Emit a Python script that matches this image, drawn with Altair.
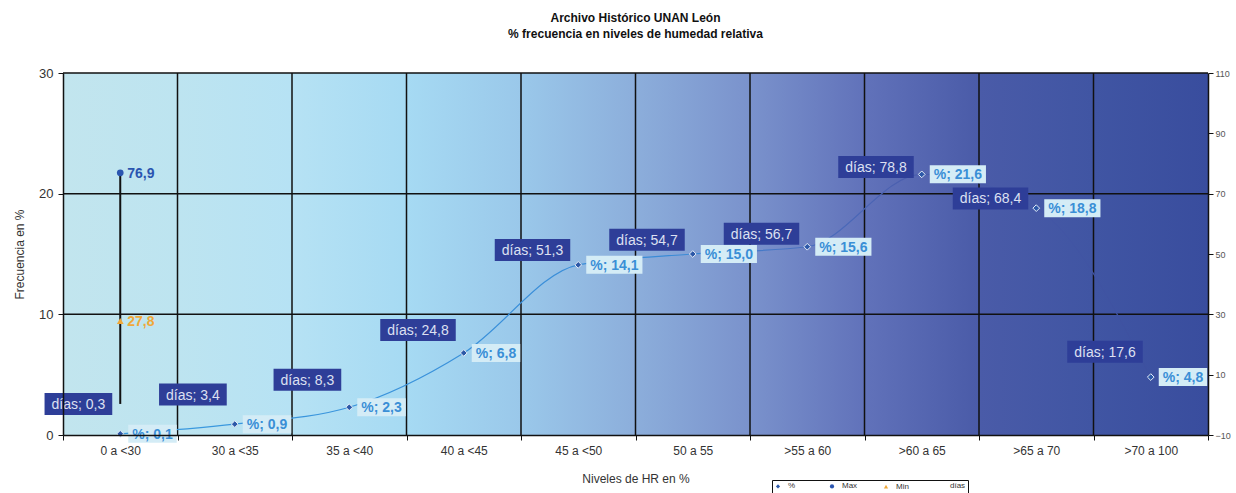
import altair as alt
import pandas as pd

# --- data -------------------------------------------------------------
categories = ["0 a <30", "30 a <35", "35 a <40", "40 a <45", "45 a <50",
              "50 a 55", ">55 a 60", ">60 a 65", ">65 a 70", ">70 a 100"]
pct_values = [0.1, 0.9, 2.3, 6.8, 14.1, 15.0, 15.6, 21.6, 18.8, 4.8]
dias_values = [0.3, 3.4, 8.3, 24.8, 51.3, 54.7, 56.7, 78.8, 68.4, 17.6]
extreme_cats = ["0 a <30", "0 a <30"]
extreme_names = ["Max", "Min"]
extreme_values = [76.9, 27.8]
left_ticks = [0, 10, 20, 30]
right_ticks = [-10, 10, 30, 50, 70, 90, 110]

FONT = "Liberation Sans"
W, H = 1145, 362


def fmt(v):
    return f"{v:.1f}".replace(".", ",")


# Arial-like advance widths (per 1000 em) used to size the label boxes
ADV = {"%": 889, ";": 278, ",": 278, " ": 278, "d": 556, "í": 278,
       "a": 556, "s": 500}
ADV_BOLD = {"%": 889, ";": 333, ",": 278, " ": 278}


def text_width(s, size, bold=False):
    table = ADV_BOLD if bold else ADV
    return sum(table.get(ch, 556) for ch in s) * size / 1000.0


def box_left(w, h, gap):
    return f"M{-gap - w:.1f},{-h / 2:.1f}H{-gap:.1f}V{h / 2:.1f}H{-gap - w:.1f}Z"


def box_right(w, h, gap):
    return f"M{gap:.1f},{-h / 2:.1f}H{gap + w:.1f}V{h / 2:.1f}H{gap:.1f}Z"


LABEL_SIZE = 14
GAP = 8
DIAS_PAD, PCT_PAD = 7, 4

df = pd.DataFrame({"cat": categories, "pct": pct_values, "dias": dias_values})
df["series"] = "%"
df["pct_label"] = ["%; " + fmt(v) for v in pct_values]
df["dias_label"] = ["días; " + fmt(v) for v in dias_values]
df["pct_box"] = [box_right(text_width(s, LABEL_SIZE, True) + 2 * PCT_PAD, 18, GAP)
                 for s in df["pct_label"]]
df["dias_box"] = [box_left(text_width(s, LABEL_SIZE) + 2 * DIAS_PAD, 22, GAP)
                  for s in df["dias_label"]]

ext = pd.DataFrame({"cat": extreme_cats, "series": extreme_names,
                    "value": extreme_values})
ext["label"] = [fmt(v) for v in extreme_values]

# high-low line of the first class, spanning every right-axis value there
first = categories[0]
span_vals = [dias_values[0]] + [v for c, v in zip(extreme_cats, extreme_values) if c == first]
hilo = pd.DataFrame({"cat": [first], "hi": [max(span_vals)], "lo": [min(span_vals)]})

# grid lines: class boundaries and the upper left-axis ticks
vgrid = pd.DataFrame({"cat": categories[1:]})
hgrid = pd.DataFrame({"v": left_ticks[1:]})

# --- encodings ----------------------------------------------------------
x_enc = alt.X(
    "cat:N", sort=categories,
    scale=alt.Scale(paddingInner=0, paddingOuter=0),
    axis=alt.Axis(
        title="Niveles de HR en %", tickBand="extent", grid=False, zindex=1,
        domainColor="#111111", domainWidth=1.5, tickColor="#111111",
        tickSize=5, labelAngle=0, labelFontSize=12, labelColor="#333333",
        labelPadding=5, titleFontSize=12, titleFontWeight="normal",
        titleColor="#333333", titlePadding=17,
    ),
)

left_scale = alt.Scale(domain=[0, 30], nice=False, zero=False)
right_scale = alt.Scale(domain=[-10, 110], nice=False, zero=False)

left_axis = alt.Axis(
    title="Frecuencia en %", values=left_ticks, grid=False, zindex=1,
    domainColor="#111111", domainWidth=1.5,
    tickColor="#111111", tickSize=5, labelFontSize=13, labelColor="#333333",
    labelPadding=5, titleFontSize=12, titleFontWeight="normal",
    titleColor="#333333", titlePadding=12,
)
right_axis = alt.Axis(
    orient="right", title=None, values=right_ticks, grid=False, zindex=1,
    domainColor="#111111", domainWidth=1.5, tickColor="#111111", tickSize=5,
    labelFontSize=9, labelColor="#555555", labelPadding=2,
)

series_domain = ["%", "Max", "Min", "días"]
legend = alt.Legend(
    title=None, orient="none", direction="horizontal", legendX=709,
    legendY=407, labelFontSize=8, labelColor="#333333", symbolSize=18,
    columnPadding=22, gridAlign="all", padding=2, strokeColor="#111111",
    fillColor="white", labelFont=FONT, labelOffset=6,
)
color_enc = alt.Color(
    "series:N",
    scale=alt.Scale(domain=series_domain,
                    range=["#2c58a8", "#2a55b0", "#f0a838", "#ffffff"]),
    legend=legend,
)
shape_enc = alt.Shape(
    "series:N",
    scale=alt.Scale(domain=series_domain,
                    range=["diamond", "circle", "triangle-up", "circle"]),
    legend=legend,
)

background = alt.Chart(pd.DataFrame({"k": [0]})).mark_rect(
    fill=alt.Gradient(
        gradient="linear", x1=0, y1=0, x2=1, y2=0,
        stops=[
            alt.GradientStop(offset=0.00, color="#c2e5ee"),
            alt.GradientStop(offset=0.10, color="#bde4f0"),
            alt.GradientStop(offset=0.20, color="#b6e2f4"),
            alt.GradientStop(offset=0.30, color="#a6daf3"),
            alt.GradientStop(offset=0.40, color="#9ac8ea"),
            alt.GradientStop(offset=0.50, color="#8caedb"),
            alt.GradientStop(offset=0.60, color="#7a92cc"),
            alt.GradientStop(offset=0.70, color="#6172ba"),
            alt.GradientStop(offset=0.80, color="#4a5ba8"),
            alt.GradientStop(offset=0.90, color="#4055a3"),
            alt.GradientStop(offset=1.00, color="#394d9e"),
        ],
    ),
).encode(x=alt.value(0), x2=alt.value(W), y=alt.value(0), y2=alt.value(H))

vgrid_rules = alt.Chart(vgrid).mark_rule(
    color="#111111", strokeWidth=1.5, xOffset=-W / len(categories) / 2
).encode(x=x_enc)

hgrid_rules = alt.Chart(hgrid).mark_rule(color="#111111", strokeWidth=1.5).encode(
    y=alt.Y("v:Q", scale=left_scale, axis=None)
)

base = alt.Chart(df)

# the smoothed line fades into the dark end of the plot background
pct_line = base.mark_line(
    strokeWidth=1.2, interpolate="monotone",
    stroke=alt.Gradient(
        gradient="linear", x1=0, y1=0, x2=1, y2=0,
        stops=[
            alt.GradientStop(offset=0.00, color="#3a9be0"),
            alt.GradientStop(offset=0.55, color="#3a8ad6"),
            alt.GradientStop(offset=0.66, color="#4a70c0"),
            alt.GradientStop(offset=0.76, color="#4a5eae"),
            alt.GradientStop(offset=1.00, color="#3d509f"),
        ],
    ),
).encode(x=x_enc, y=alt.Y("pct:Q", scale=left_scale, axis=None))

pct_boxes = base.mark_point(
    filled=True, fill="#d4ecf6", opacity=1, strokeWidth=0
).encode(
    x=x_enc, y=alt.Y("pct:Q", scale=left_scale, axis=None),
    shape=alt.Shape("pct_box:N", scale=None), size=alt.value(4),
)

pct_text = base.mark_text(
    align="left", baseline="middle", dx=GAP + PCT_PAD, dy=1,
    fontSize=LABEL_SIZE, fontWeight="bold", color="#3a8fd6", font=FONT,
).encode(
    x=x_enc, y=alt.Y("pct:Q", scale=left_scale, axis=None),
    text="pct_label:N",
)

pct_points = base.mark_point(
    filled=True, opacity=1, size=45, stroke="#e6eef8", strokeWidth=1
).encode(
    x=x_enc, y=alt.Y("pct:Q", scale=left_scale, axis=left_axis),
    color=color_enc, shape=shape_enc,
)

dias_boxes = base.mark_point(
    filled=True, fill="#2e3e98", opacity=1, strokeWidth=0
).encode(
    x=x_enc, y=alt.Y("dias:Q", scale=right_scale, axis=None),
    shape=alt.Shape("dias_box:N", scale=None), size=alt.value(4),
)

dias_text = base.mark_text(
    align="right", baseline="middle", dx=-(GAP + DIAS_PAD), dy=1,
    fontSize=LABEL_SIZE, color="#dde0f2", font=FONT,
).encode(
    x=x_enc, y=alt.Y("dias:Q", scale=right_scale, axis=None),
    text="dias_label:N",
)

hilo_rule = alt.Chart(hilo).mark_rule(color="#111111", strokeWidth=2).encode(
    x=x_enc, y=alt.Y("hi:Q", scale=right_scale, axis=None), y2="lo:Q",
)

ext_points = alt.Chart(ext).mark_point(filled=True, opacity=1, size=45).encode(
    x=x_enc, y=alt.Y("value:Q", scale=right_scale, axis=right_axis),
    color=color_enc, shape=shape_enc,
)

ext_text = alt.Chart(ext).mark_text(
    align="left", baseline="middle", dx=7, dy=1, fontSize=LABEL_SIZE,
    fontWeight="bold", font=FONT,
).encode(
    x=x_enc, y=alt.Y("value:Q", scale=right_scale, axis=None),
    text="label:N", color=color_enc,
)

chart = alt.layer(
    background, vgrid_rules, hgrid_rules,
    pct_line, hilo_rule, pct_boxes, dias_boxes, pct_text, dias_text,
    pct_points, ext_points, ext_text,
).resolve_scale(
    y="independent"
).properties(
    width=W, height=H,
    title=alt.TitleParams(
        ["Archivo Histórico UNAN León",
         "% frecuencia en niveles de humedad relativa"],
        fontSize=12, font=FONT, fontWeight="bold", color="#111111",
        anchor="middle", offset=26, lineHeight=16,
    ),
    autosize=alt.AutoSizeParams(type="none"),
    padding={"left": 63, "top": 73, "right": 28, "bottom": 58},
).configure(
    font=FONT, background="white",
).configure_view(
    stroke=None,
)

chart.save("out.html", embed_options={"renderer": "svg", "actions": False})
